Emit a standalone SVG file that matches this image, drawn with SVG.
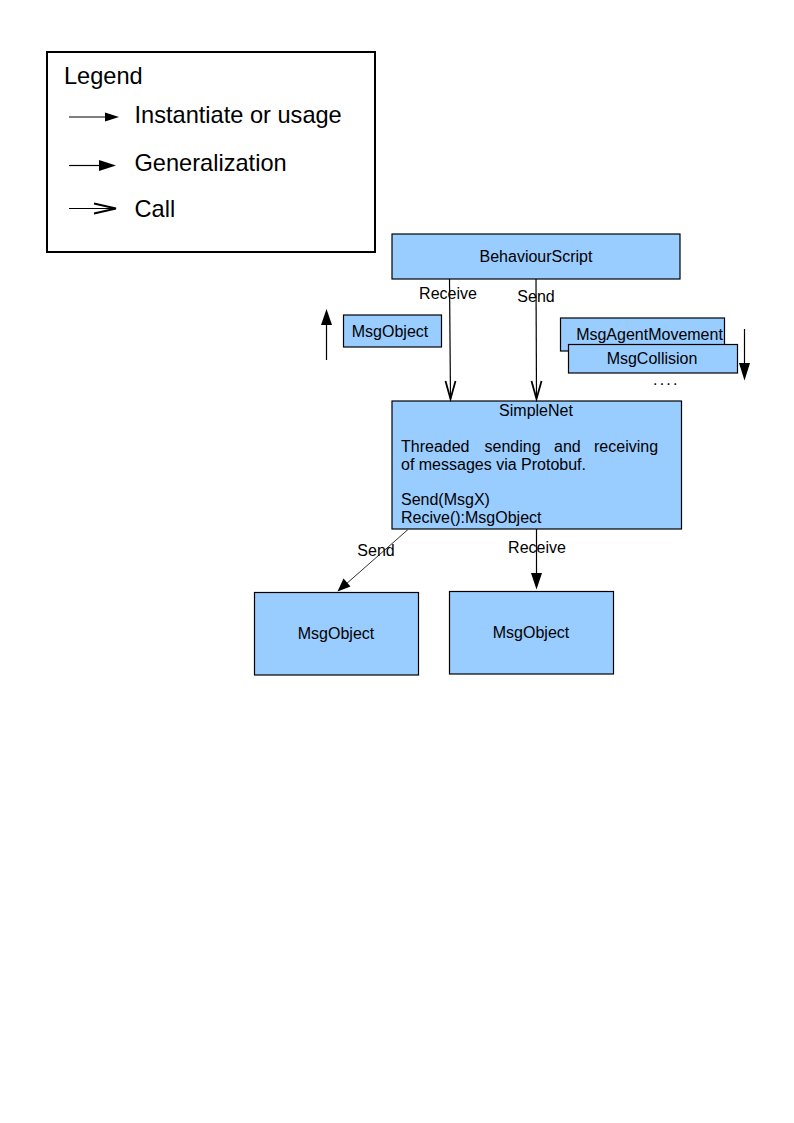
<svg xmlns="http://www.w3.org/2000/svg" width="794" height="1123" viewBox="0 0 794 1123">
<style>
text{font-family:"Liberation Sans",Arial,sans-serif;fill:#000}
.lg{font-size:23.6px}
.t{font-size:16px}
.box{fill:#99ccff;stroke:#000;stroke-width:1.2}
.ln{stroke:#000;stroke-width:1.2;fill:none}
.fa{fill:#000;stroke:none}
.oa{fill:none;stroke:#000;stroke-width:1.8}
</style>
<rect width="794" height="1123" fill="#fff"/>
<g id="legend">
<rect x="47" y="52" width="328" height="200" fill="#fff" stroke="#000" stroke-width="2"/>
<text class="lg" x="64" y="84">Legend</text>
<line class="ln" x1="69" y1="117" x2="106" y2="117"/>
<polygon class="fa" points="119,117 105,112.5 105,121.5"/>
<text class="lg" x="134.5" y="123">Instantiate or usage</text>
<line class="ln" x1="69" y1="165.5" x2="100" y2="165.5"/>
<polygon class="fa" points="116,165.5 99,160 99,171"/>
<text class="lg" x="134.5" y="171">Generalization</text>
<line class="ln" x1="69" y1="208.5" x2="114" y2="208.5"/>
<polyline class="oa" points="94,203.5 116,208.5 94,213.5"/>
<text class="lg" x="134.5" y="217">Call</text>
</g>
<g id="behaviourscript">
<rect class="box" x="392" y="234" width="288" height="45"/>
<text class="t" x="536" y="262" text-anchor="middle">BehaviourScript</text>
</g>
<g id="msgobject-small">
<rect class="box" x="343.5" y="315" width="98" height="32"/>
<text class="t" x="390" y="337" text-anchor="middle">MsgObject</text>
</g>
<g id="msgagentmovement">
<rect class="box" x="560.5" y="318" width="164" height="33"/>
<text class="t" x="649.5" y="339.5" text-anchor="middle">MsgAgentMovement</text>
</g>
<g id="msgcollision">
<rect class="box" x="568.5" y="344.5" width="169" height="28.5"/>
<text class="t" x="652" y="363.5" text-anchor="middle">MsgCollision</text>
</g>
<g id="dots">
<text class="t" x="653" y="385" letter-spacing="2.2">....</text>
</g>
<g id="simplenet">
<rect class="box" x="392" y="401" width="289.5" height="128"/>
<text class="t" x="536" y="416" text-anchor="middle">SimpleNet</text>
<text class="t" y="452"><tspan x="401">Threaded</tspan><tspan x="484.5">sending</tspan><tspan x="554">and</tspan><tspan x="594">receiving</tspan></text>
<text class="t" x="401" y="469.5">of messages via Protobuf.</text>
<text class="t" x="401" y="505">Send(MsgX)</text>
<text class="t" x="401" y="522.5">Recive():MsgObject</text>
</g>
<g id="msgobject-left">
<rect class="box" x="254.5" y="592.5" width="164" height="82.5"/>
<text class="t" x="336" y="639" text-anchor="middle">MsgObject</text>
</g>
<g id="msgobject-right">
<rect class="box" x="449.5" y="591.5" width="164" height="82.5"/>
<text class="t" x="531" y="638" text-anchor="middle">MsgObject</text>
</g>
<g id="connectors">
<line class="ln" x1="449.5" y1="279" x2="450.5" y2="399"/>
<polyline class="oa" points="445.5,381 450.5,399 455.5,381"/>
<text class="t" x="448" y="299" text-anchor="middle">Receive</text>
<line class="ln" x1="536" y1="279" x2="536.5" y2="399"/>
<polyline class="oa" points="531.5,381 536.5,399 541.5,381"/>
<text class="t" x="536" y="301.5" text-anchor="middle">Send</text>
<line class="ln" x1="326.5" y1="360" x2="326.5" y2="322"/>
<polygon class="fa" points="326.5,309 321,325 332,325"/>
<line class="ln" x1="744.5" y1="329" x2="744.5" y2="366"/>
<polygon class="fa" points="744.5,380.5 739,363 750,363"/>
<line x1="408" y1="529.5" x2="345" y2="585" stroke="#333" stroke-width="1"/>
<polygon class="fa" points="337.5,591.5 343.5,578.5 350.5,586.5"/>
<text class="t" x="376" y="555.5" text-anchor="middle">Send</text>
<line class="ln" x1="536.5" y1="529" x2="536.5" y2="576"/>
<polygon class="fa" points="536.5,589.5 531,573 542,573"/>
<text class="t" x="537" y="553" text-anchor="middle">Receive</text>
</g>
</svg>
